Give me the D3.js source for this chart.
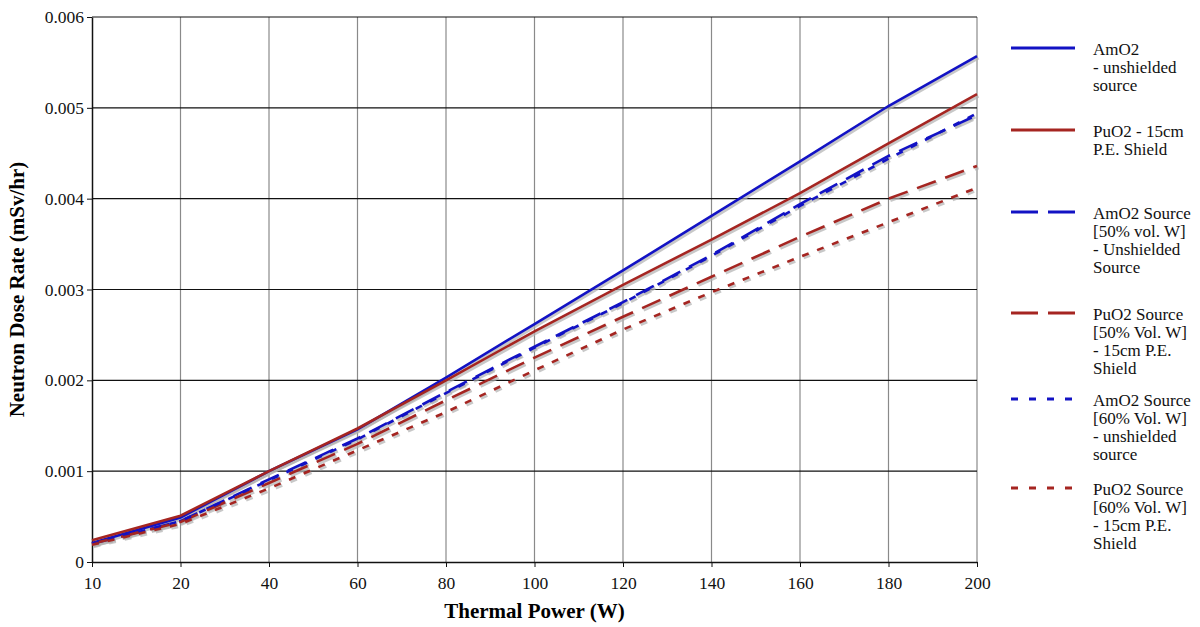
<!DOCTYPE html>
<html>
<head>
<meta charset="utf-8">
<script src="https://cdn.jsdelivr.net/npm/d3@7"></script>
<style>
  body { margin: 0; background: #fff; }
  text { font-family: "Liberation Serif", "Times New Roman", serif; }
</style>
</head>
<body>
<div id="chart"></div>
<script>
var power = [10, 20, 40, 60, 80, 100, 120, 140, 160, 180, 200]
var yTicks = [0, 0.001, 0.002, 0.003, 0.004, 0.005, 0.006]

var amo2     = [0.00021, 0.00049, 0.00100, 0.00146, 0.00203, 0.00262, 0.00321, 0.00381, 0.00441, 0.00502, 0.00557]
var puo2     = [0.00024, 0.00051, 0.00100, 0.00147, 0.00200, 0.00254, 0.00305, 0.00355, 0.00406, 0.00461, 0.00515]
var amo2_50  = [0.00020, 0.00045, 0.00091, 0.00136, 0.00187, 0.00237, 0.00286, 0.00338, 0.00394, 0.00447, 0.00492]
var puo2_50  = [0.00020, 0.00044, 0.00087, 0.00130, 0.00178, 0.00225, 0.00270, 0.00314, 0.00358, 0.00400, 0.00436]
var amo2_60  = [0.00020, 0.00045, 0.00090, 0.00135, 0.00186, 0.00236, 0.00285, 0.00337, 0.00392, 0.00444, 0.00494]
var puo2_60  = [0.00019, 0.00042, 0.00081, 0.00123, 0.00165, 0.00211, 0.00256, 0.00297, 0.00336, 0.00374, 0.00412]

var blue = "#1212c4", red = "#a52521"

var series = [
  {name: ["AmO2", "- unshielded", "source"], values: amo2, color: blue, dash: null},
  {name: ["PuO2 - 15cm", "P.E. Shield"], values: puo2, color: red, dash: null},
  {name: ["AmO2 Source", "[50% vol. W]", "- Unshielded", "Source"], values: amo2_50, color: blue, dash: "20,10"},
  {name: ["PuO2 Source", "[50% Vol. W]", "- 15cm P.E.", "Shield"], values: puo2_50, color: red, dash: "20,10"},
  {name: ["AmO2 Source", "[60% Vol. W]", "- unshielded", "source"], values: amo2_60, color: blue, dash: "7,9"},
  {name: ["PuO2 Source", "[60% Vol. W]", "- 15cm P.E.", "Shield"], values: puo2_60, color: red, dash: "7,9"}
]
var legendY = [48, 130, 212, 313, 399, 488]

var width = 1200, height = 627
var margin = {left: 92, top: 17, right: 223, bottom: 65}

var svg = d3.select("#chart").append("svg")
    .attr("width", width)
    .attr("height", height)

var x = d3.scalePoint()
    .domain(power)
    .range([margin.left, width - margin.right])

var y = d3.scaleLinear()
    .domain([0, 0.006])
    .range([height - margin.bottom, margin.top])

// vertical grid (gray)
svg.append("g")
  .selectAll("line")
  .data(power.slice(1))
  .enter().append("line")
    .attr("x1", function(d){ return x(d) })
    .attr("x2", function(d){ return x(d) })
    .attr("y1", y(0))
    .attr("y2", y(0.006))
    .attr("stroke", "#8a8a8a")
    .attr("stroke-width", 1.2)

// horizontal grid (black)
svg.append("g")
  .selectAll("line")
  .data(yTicks.slice(1))
  .enter().append("line")
    .attr("x1", x(10))
    .attr("x2", x(200))
    .attr("y1", function(d){ return y(d) })
    .attr("y2", function(d){ return y(d) })
    .attr("stroke", "#111")
    .attr("stroke-width", 1.2)

var xAxis = svg.append("g")
    .attr("transform", "translate(0," + y(0) + ")")
    .call(d3.axisBottom(x).tickSize(5).tickSizeOuter(0))
    .attr("font-family", "Liberation Serif, serif")
xAxis.selectAll("text").attr("font-size", 17.5).attr("dy", "1.1em").attr("fill", "#111")

var yAxis = svg.append("g")
    .attr("transform", "translate(" + x(10) + ",0)")
    .call(d3.axisLeft(y).tickValues(yTicks).tickSize(5).tickSizeOuter(0)
      .tickFormat(function(d){ return d === 0 ? "0" : d3.format(".3f")(d) }))
    .attr("font-family", "Liberation Serif, serif")
yAxis.selectAll("text").attr("font-size", 17.5).attr("fill", "#111")
svg.selectAll(".domain").attr("stroke", "#111").attr("stroke-width", 1.5)
svg.selectAll(".tick line").attr("stroke", "#111")

var line = d3.line()
    .x(function(d, i){ return x(power[i]) })
    .y(function(d){ return y(d) })

var lines = svg.append("g")
series.forEach(function(s){
  // soft shadow
  lines.append("path")
      .attr("d", line(s.values))
      .attr("transform", "translate(1.5,2)")
      .attr("fill", "none")
      .attr("stroke", "#b0b0b0")
      .attr("stroke-opacity", 0.7)
      .attr("stroke-width", 3)
      .attr("stroke-dasharray", s.dash)
})
series.forEach(function(s){
  lines.append("path")
      .attr("d", line(s.values))
      .attr("fill", "none")
      .attr("stroke", s.color)
      .attr("stroke-width", 2.6)
      .attr("stroke-dasharray", s.dash)
})

// legend
var legend = svg.append("g")
series.forEach(function(s, i){
  var ly = legendY[i]
  legend.append("line")
      .attr("x1", 1011).attr("x2", 1075)
      .attr("y1", ly).attr("y2", ly)
      .attr("stroke", s.color)
      .attr("stroke-width", 3)
      .attr("stroke-dasharray", s.dash == null ? null : (s.dash === "20,10" ? "27,10" : "7,11"))
  var t = legend.append("text")
      .attr("x", 1093)
      .attr("y", ly + 7)
      .attr("font-size", 17)
      .attr("fill", "#111")
  s.name.forEach(function(n, j){
    t.append("tspan").attr("x", 1093).attr("dy", j === 0 ? 0 : 18).text(n)
  })
})

svg.append("text")
    .attr("transform", "translate(24," + ((y(0) + y(0.006)) / 2) + ") rotate(-90)")
    .attr("text-anchor", "middle")
    .attr("font-size", 21)
    .attr("font-weight", "bold")
    .text("Neutron Dose Rate (mSv/hr)")

svg.append("text")
    .attr("x", (x(10) + x(200)) / 2)
    .attr("y", 618)
    .attr("text-anchor", "middle")
    .attr("font-size", 21)
    .attr("font-weight", "bold")
    .text("Thermal Power (W)")
</script>
</body>
</html>
